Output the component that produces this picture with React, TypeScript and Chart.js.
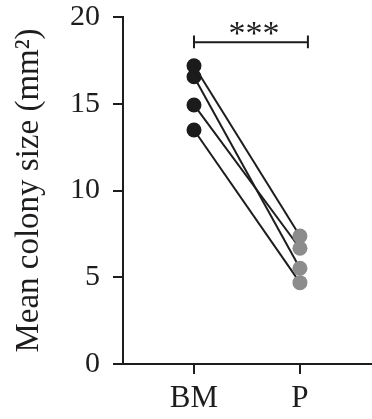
import React, { useEffect, useRef } from "react";
import { Chart, registerables } from "chart.js";

Chart.register(...registerables);

const categories = ["BM", "P"];
const bmValues = [17.19, 16.56, 14.93, 13.49];
const pValues = [7.38, 5.52, 6.67, 4.69];
const yTicks = [0, 5, 10, 15, 20];
const yTitle = "Mean colony size (mm²)";
const sigLabel = "***";

const FONT = "'Liberation Serif', 'Times New Roman', serif";
const INK = "#1e1c1d";
const BLACK_PT = "#1b1b1b";
const GRAY_PT = "#8c8c8c";

const bracketPlugin = {
  id: "bracket",
  afterDatasetsDraw(chart: any) {
    const { ctx, scales } = chart;
    const x = scales.x;
    const y = scales.y;
    const x1 = x.getPixelForValue(1);
    const x2 = x.getPixelForValue(2.075);
    const yl = y.getPixelForValue(18.55);
    const yt = y.getPixelForValue(18.93);
    const yb = y.getPixelForValue(18.2);
    ctx.save();
    ctx.strokeStyle = INK;
    ctx.lineWidth = 2;
    ctx.beginPath();
    ctx.moveTo(x1, yl);
    ctx.lineTo(x2, yl);
    ctx.moveTo(x1, yt);
    ctx.lineTo(x1, yb);
    ctx.moveTo(x2, yt);
    ctx.lineTo(x2, yb);
    ctx.stroke();
    ctx.fillStyle = INK;
    ctx.font = `34px ${FONT}`;
    ctx.textAlign = "center";
    ctx.textBaseline = "alphabetic";
    ctx.fillText(sigLabel, (x1 + x2) / 2 + 3, yl + 2);
    ctx.restore();
  },
};

export default function App() {
  const ref = useRef<HTMLCanvasElement>(null);
  useEffect(() => {
    document.body.style.margin = "0";
    const lineSets = bmValues.map((b, i) => ({
      type: "line" as const,
      data: [
        { x: 1, y: b },
        { x: 2, y: pValues[i] },
      ],
      borderColor: INK,
      borderWidth: 2,
      pointRadius: 0,
      order: 2,
    }));
    const pointSets = [
      {
        type: "scatter" as const,
        data: bmValues.map((v) => ({ x: 1, y: v })),
        backgroundColor: BLACK_PT,
        borderWidth: 0,
        pointRadius: 7.5,
        order: 1,
      },
      {
        type: "scatter" as const,
        data: pValues.map((v) => ({ x: 2, y: v })),
        backgroundColor: GRAY_PT,
        borderWidth: 0,
        pointRadius: 7.5,
        order: 1,
      },
    ];
    const chart = new Chart(ref.current!, {
      type: "scatter",
      data: { datasets: [...lineSets, ...pointSets] as any },
      options: {
        animation: false,
        responsive: false,
        layout: { autoPadding: false, padding: { top: 17, right: 0, left: 0, bottom: 0 } },
        plugins: { legend: { display: false }, tooltip: { enabled: false } },
        scales: {
          x: {
            type: "linear",
            min: 0.33,
            max: 2.68,
            afterBuildTicks: (s: any) => {
              s.ticks = [{ value: 1 }, { value: 2 }];
            },
            afterFit: (s: any) => {
              s.height = 55;
              s.paddingLeft = 0;
              s.paddingRight = 0;
            },
            ticks: {
              callback: (v: any) => categories[Number(v) - 1] ?? "",
              font: { family: FONT, size: 31 },
              color: INK,
              padding: 6,
              maxRotation: 0,
            },
            grid: {
              drawOnChartArea: false,
              drawTicks: true,
              tickLength: 10,
              color: INK,
              lineWidth: 2,
            },
            border: { display: true, color: INK, width: 2 },
          },
          y: {
            type: "linear",
            min: 0,
            max: 20,
            afterBuildTicks: (s: any) => {
              s.ticks = yTicks.map((v) => ({ value: v }));
            },
            afterFit: (s: any) => {
              s.width = 123;
              s.paddingTop = 0;
              s.paddingBottom = 0;
            },
            ticks: {
              font: { family: FONT, size: 30 },
              color: INK,
              padding: 13,
            },
            grid: {
              drawOnChartArea: false,
              drawTicks: true,
              tickLength: 10,
              color: INK,
              lineWidth: 2,
            },
            border: { display: true, color: INK, width: 2 },
            title: {
              display: true,
              text: yTitle,
              font: { family: FONT, size: 33 },
              color: INK,
              padding: { top: 10, bottom: 0 },
            },
          },
        },
      },
      plugins: [bracketPlugin],
    });
    return () => chart.destroy();
  }, []);
  return (
    <div style={{ position: "absolute", left: 0, top: 0, width: 372, height: 419, overflow: "hidden" }}>
      <canvas ref={ref} width={372} height={419} style={{ width: 372, height: 419 }} />
    </div>
  );
}
